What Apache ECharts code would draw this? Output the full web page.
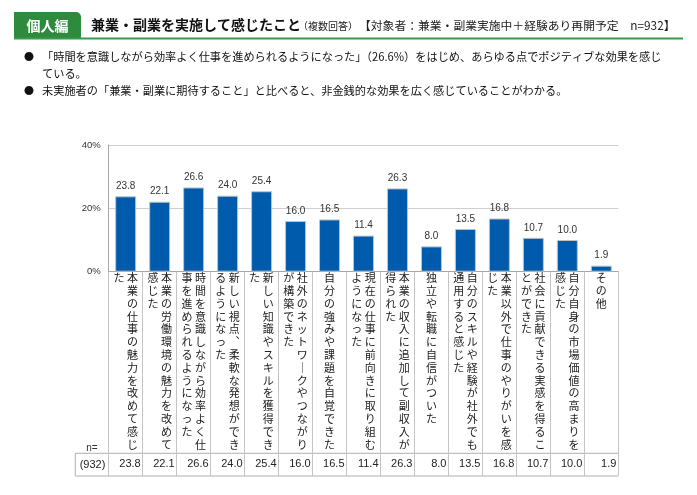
<!DOCTYPE html>
<html>
<head>
<meta charset="utf-8">
<script src="https://cdn.jsdelivr.net/npm/echarts@6/dist/echarts.min.js"></script>
<style>
html,body{margin:0;padding:0;background:#fff;}
#c{width:697px;height:495px;}
</style>
</head>
<body>
<div id="c"></div>
<script>
// ---- data ----
var categories = [
  '本業の仕事の魅力を改めて感じた',
  '本業の労働環境の魅力を改めて感じた',
  '時間を意識しながら効率よく仕事を進められるようになった',
  '新しい視点、柔軟な発想ができるようになった',
  '新しい知識やスキルを獲得できた',
  '社外のネットワークやつながりが構築できた',
  '自分の強みや課題を自覚できた',
  '現在の仕事に前向きに取り組むようになった',
  '本業の収入に追加して副収入が得られた',
  '独立や転職に自信がついた',
  '自分のスキルや経験が社外でも通用すると感じた',
  '本業以外で仕事のやりがいを感じた',
  '社会に貢献できる実感を得ることができた',
  '自分自身の市場価値の高まりを感じた',
  'その他'
];
var values = [23.8, 22.1, 26.6, 24.0, 25.4, 16.0, 16.5, 11.4, 26.3, 8.0, 13.5, 16.8, 10.7, 10.0, 1.9];
var yTicks = [0, 20, 40];
var sampleN = '(932)';

// ---- layout ----
var W = 697, H = 495;
var gLeft = 108.7, gRight = 618.3, gTop = 145, gBottom = 271.7;
var tableTop = 453.3, tableBottom = 476, tableLeft = 75.3;
var CJK = '"Noto Sans CJK JP","Noto Sans CJK SC",sans-serif';
var NUM = '"Liberation Sans",Arial,sans-serif';

function vert(s) {
  s = s.replace(/ー/g, '｜').replace(/、/g, '︑');
  var cols = [];
  for (var i = 0; i < s.length; i += 14) cols.push(s.slice(i, i + 14));
  var rows = [];
  for (var r = 0; r < cols[0].length; r++) {
    var line = '';
    for (var c = cols.length - 1; c >= 0; c--) {
      var ch = cols[c].charAt(r) || '　';
      line += '{c|' + ch + '}';
    }
    rows.push(line);
  }
  return rows.join('\n');
}

var chart = echarts.init(document.getElementById('c'), null, {renderer: 'canvas'});
var option = {
  backgroundColor: '#fff',
  animation: false,
  grid: {left: gLeft, right: W - gRight, top: gTop, bottom: H - gBottom, containLabel: false},
  xAxis: [{
    type: 'category',
    data: categories,
    position: 'bottom',
    axisLine: {show: true, lineStyle: {color: '#a6a6a6', width: 1}},
    axisTick: {show: true, length: tableBottom - gBottom, lineStyle: {color: '#c4c4c4', width: 1}},
    axisLabel: {
      interval: 0, margin: 0, hideOverlap: false, lineHeight: 12.8,
      formatter: function (v) { return vert(v); },
      rich: {c: {fontFamily: CJK, fontSize: 11, width: 13.5, height: 12.8, align: 'center', lineHeight: 12.8, color: '#222'}}
    },
    splitLine: {show: false}
  }, {
    type: 'category',
    data: categories,
    position: 'bottom',
    offset: 181,
    axisLine: {show: false},
    axisTick: {show: false},
    axisLabel: {
      interval: 0, margin: 6, hideOverlap: false,
      formatter: function (v, i) { return '{v|' + values[i].toFixed(1) + '}'; },
      rich: {v: {fontFamily: NUM, fontSize: 11, width: 30, align: 'right', color: '#222'}}
    }
  }],
  yAxis: {
    type: 'value', min: yTicks[0], max: yTicks[yTicks.length - 1], interval: yTicks[1] - yTicks[0],
    axisLine: {show: true, lineStyle: {color: '#a6a6a6'}},
    axisTick: {show: false},
    axisLabel: {formatter: '{value}%', fontFamily: NUM, fontSize: 9.5, color: '#333', margin: 8},
    splitLine: {show: true, lineStyle: {color: '#cfcfcf', width: 1}}
  },
  series: [{
    type: 'bar',
    data: values,
    barWidth: 21,
    itemStyle: {color: '#005bac', borderColor: '#c2c2c2', borderWidth: 1},
    label: {show: true, position: 'top', distance: 5, fontFamily: NUM, fontSize: 10, color: '#333',
      formatter: function (p) { return p.value.toFixed(1); }}
  }],
  graphic: [
    // title tab
    {type: 'rect', shape: {x: 14, y: 12, width: 67, height: 26, r: [0, 5, 0, 0]}, style: {fill: '#2e8b3e'}},
    {type: 'text', x: 47.5, y: 25.5, style: {text: '個人編', fill: '#fff', font: 'bold 14px ' + CJK, align: 'center', verticalAlign: 'middle'}},
    {type: 'line', shape: {x1: 14, y1: 38.5, x2: 683, y2: 38.5}, style: {stroke: '#3b9a47', lineWidth: 2}},
    {type: 'text', x: 91, y: 25, style: {text: '兼業・副業を実施して感じたこと', fill: '#111', font: 'bold 14px ' + CJK, verticalAlign: 'middle'}},
    {type: 'text', x: 298, y: 26, style: {text: '（複数回答）', fill: '#222', font: '10px ' + CJK, verticalAlign: 'middle'}},
    {type: 'text', x: 359, y: 26, style: {text: '【対象者：兼業・副業実施中＋経験あり再開予定　n=932】', fill: '#222', font: '11.8px ' + CJK, verticalAlign: 'middle'}},
    // bullets
    {type: 'text', x: 29, y: 57, style: {text: '●', fill: '#111', font: '10px ' + CJK, align: 'center', verticalAlign: 'middle'}},
    {type: 'text', x: 42, y: 57, style: {text: '「時間を意識しながら効率よく仕事を進められるようになった」（26.6%）をはじめ、あらゆる点でポジティブな効果を感じ', fill: '#111', font: '11.2px ' + CJK, verticalAlign: 'middle'}},
    {type: 'text', x: 42, y: 73.3, style: {text: 'ている。', fill: '#111', font: '11.2px ' + CJK, verticalAlign: 'middle'}},
    {type: 'text', x: 29, y: 91, style: {text: '●', fill: '#111', font: '10px ' + CJK, align: 'center', verticalAlign: 'middle'}},
    {type: 'text', x: 42, y: 91, style: {text: '未実施者の「兼業・副業に期待すること」と比べると、非金銭的な効果を広く感じていることがわかる。', fill: '#111', font: '11.2px ' + CJK, verticalAlign: 'middle'}},
    // table
    {type: 'line', shape: {x1: tableLeft, y1: tableTop, x2: gRight, y2: tableTop}, style: {stroke: '#b0b0b0', lineWidth: 1}},
    {type: 'line', shape: {x1: tableLeft, y1: tableBottom, x2: gRight, y2: tableBottom}, style: {stroke: '#b0b0b0', lineWidth: 1}},
    {type: 'line', shape: {x1: tableLeft, y1: tableTop, x2: tableLeft, y2: tableBottom}, style: {stroke: '#b0b0b0', lineWidth: 1}},
    {type: 'text', x: 92, y: 448, style: {text: 'n=', fill: '#333', font: '10px ' + NUM, align: 'center', verticalAlign: 'middle'}},
    {type: 'text', x: 92.5, y: 465, style: {text: sampleN, fill: '#222', font: '11px ' + NUM, align: 'center', verticalAlign: 'middle'}}
  ]
};
chart.setOption(option);
</script>
</body>
</html>
